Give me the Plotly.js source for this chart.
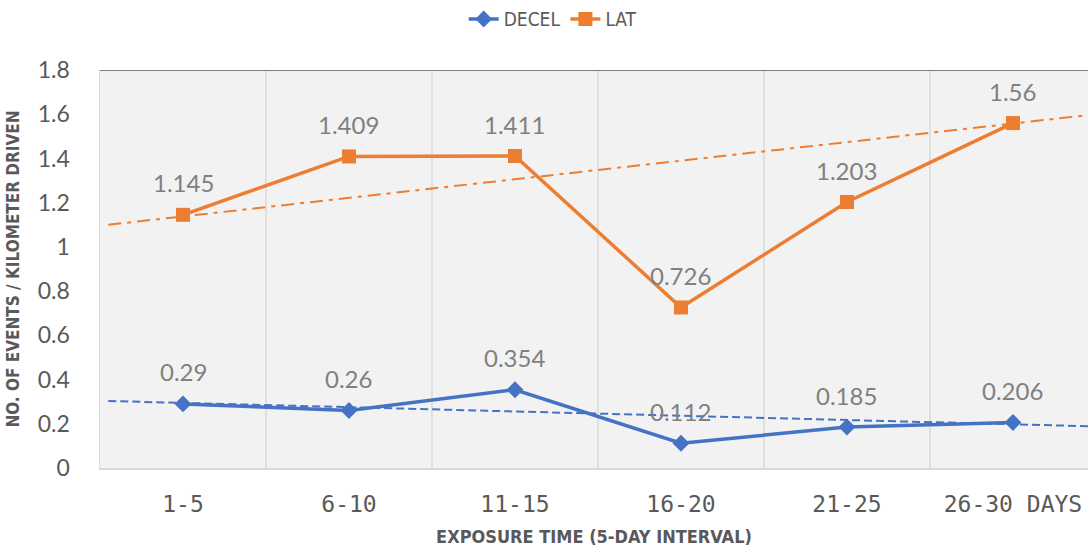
<!DOCTYPE html>
<html>
<head>
<meta charset="utf-8">
<script src="https://cdn.plot.ly/plotly-3.0.1.min.js"></script>
<style>html,body{margin:0;padding:0;background:#fff;}#chart{width:1088px;height:547px;}</style>
</head>
<body>
<div id="chart"></div>
<script>
// ---- data ----
const categories = ['1-5', '6-10', '11-15', '16-20', '21-25', '26-30 DAYS'];
const decel = [0.29, 0.26, 0.354, 0.112, 0.185, 0.206];
const lat = [1.145, 1.409, 1.411, 0.726, 1.203, 1.56];
const trendX = [0.55, 6.5];
const latTrend = [1.10, 1.60];
const decelTrend = [0.303, 0.188];
const yTickVals = [0, 0.2, 0.4, 0.6, 0.8, 1, 1.2, 1.4, 1.6, 1.8];
const yTickText = ['0', '0.2', '0.4', '0.6', '0.8', '1', '1.2', '1.4', '1.6', '1.8'];

const xPos = categories.map((c, i) => i + 1);
const BLUE = '#4472C4', ORANGE = '#ED7D31';
const LABEL_FONT = 'Lato, "Open Sans", sans-serif';
const NARROW = '"Liberation Sans Narrow", "DejaVu Sans Condensed", "Roboto Condensed", Roboto, sans-serif';

const traces = [
  {x: trendX, y: decelTrend, type: 'scatter', mode: 'lines', showlegend: false, hoverinfo: 'skip',
   line: {color: BLUE, width: 2, dash: '8px,4px'}},
  {x: trendX, y: latTrend, type: 'scatter', mode: 'lines', showlegend: false, hoverinfo: 'skip',
   line: {color: ORANGE, width: 2, dash: '13px,6px,4px,6px'}},
  {x: xPos, y: decel, name: 'DECEL', type: 'scatter', mode: 'lines+markers',
   line: {color: BLUE, width: 3.5}, marker: {symbol: 'diamond', size: 13, color: BLUE}},
  {x: xPos, y: lat, name: 'LAT', type: 'scatter', mode: 'lines+markers',
   line: {color: ORANGE, width: 3.5}, marker: {symbol: 'square', size: 14, color: ORANGE}}
];

const annotations = [];
[decel, lat].forEach(series => {
  series.forEach((v, i) => {
    annotations.push({x: xPos[i], y: v, xref: 'x', yref: 'y', text: String(v), showarrow: false,
      yanchor: 'middle', yshift: 32, font: {family: LABEL_FONT, size: 24, color: '#808080'}});
  });
});

const shapes = [];
// vertical gridlines at category boundaries
categories.slice(1).forEach((c, i) => {
  shapes.push({type: 'line', xref: 'x', yref: 'paper', x0: xPos[i] + 0.5, x1: xPos[i] + 0.5, y0: 0, y1: 1,
    line: {color: '#d9d9d9', width: 1.5}, layer: 'below'});
});
// top border line at the axis maximum
shapes.push({type: 'line', xref: 'paper', yref: 'y', x0: 0, x1: 1,
  y0: yTickVals[yTickVals.length - 1], y1: yTickVals[yTickVals.length - 1],
  line: {color: '#7f7f7f', width: 2}});

const layout = {
  width: 1088, height: 547,
  paper_bgcolor: '#ffffff', plot_bgcolor: '#f2f2f2',
  margin: {l: 100, r: 0, t: 70, b: 79},
  showlegend: true,
  legend: {orientation: 'h', xref: 'container', yref: 'container', x: 0.508, y: 0.965,
    xanchor: 'center', yanchor: 'middle', font: {family: NARROW, size: 19, color: '#595959'},
    bgcolor: 'rgba(0,0,0,0)'},
  xaxis: {range: [0.5, 6.452], tickmode: 'array', tickvals: xPos, ticktext: categories,
    showgrid: false, zeroline: false, showline: true, linecolor: '#d9d9d9', linewidth: 2,
    ticks: '', ticklabelstandoff: 14,
    tickfont: {family: '"DejaVu Sans Mono", monospace', size: 23, color: '#595959'},
    title: {text: 'EXPOSURE TIME (5-DAY INTERVAL)', standoff: 17,
      font: {family: NARROW, size: 18, color: '#595959', weight: 'bold'}}},
  yaxis: {range: [0, 1.8], tickmode: 'array', tickvals: yTickVals, ticktext: yTickText,
    showgrid: false, zeroline: false, showline: true, linecolor: '#d9d9d9', linewidth: 1.5,
    ticks: '', ticklabelstandoff: 24,
    tickfont: {family: LABEL_FONT, size: 23, color: '#595959'},
    title: {text: 'NO. OF EVENTS / KILOMETER DRIVEN', standoff: 14,
      font: {family: NARROW, size: 17, color: '#595959', weight: 'bold'}}},
  shapes: shapes,
  annotations: annotations
};

Plotly.newPlot('chart', traces, layout, {displayModeBar: false, staticPlot: true});
</script>
</body>
</html>
